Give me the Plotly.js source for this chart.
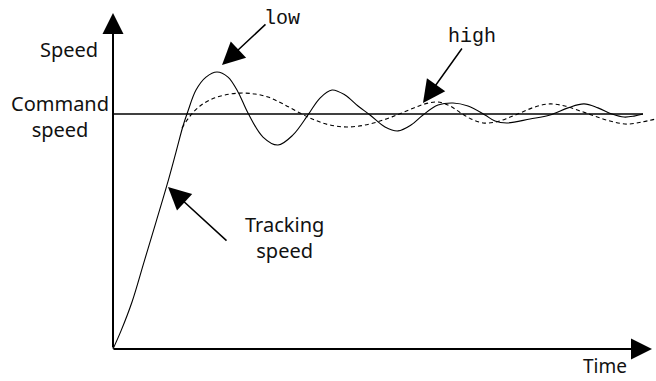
<!DOCTYPE html>
<html>
<head>
<meta charset="utf-8">
<script src="https://cdn.plot.ly/plotly-3.0.1.min.js"></script>
<style>html,body{margin:0;padding:0;background:#fff;}#chart{width:656px;height:381px;}</style>
</head>
<body>
<div id="chart"></div>
<script>
// Step-response curves (time in arbitrary units, speed relative to command speed = 1)
var timeLow = [0, 0.8, 1.9, 3.1, 4.3, 5.4, 6.3, 7.0, 7.5, 8.3, 9.3, 10.4, 11.5, 12.5, 13.5, 15.0, 16.5, 18.0, 19.5, 20.7, 21.9, 23.2, 24.5, 25.7, 27.2, 28.5, 29.8, 31.0, 32.5, 34.0, 35.5, 37.2, 38.2, 39.4, 41.7, 43.7, 45.5, 47.1, 48.5, 49.9, 51.1, 52.1, 53.0];
var speedLow = [0, 0.077, 0.200, 0.370, 0.540, 0.698, 0.838, 0.949, 1.013, 1.102, 1.157, 1.179, 1.157, 1.094, 1.004, 0.902, 0.868, 0.911, 0.996, 1.068, 1.102, 1.081, 1.034, 0.996, 0.945, 0.928, 0.953, 0.996, 1.038, 1.047, 1.034, 0.996, 0.970, 0.962, 0.979, 0.996, 1.026, 1.043, 1.026, 1.000, 0.987, 0.991, 1.000];
var timeHigh = [6.9, 7.7, 8.7, 9.9, 11.2, 12.7, 14.2, 15.5, 17.0, 18.7, 20.2, 21.7, 23.4, 25.2, 27.0, 28.4, 29.8, 31.2, 32.5, 33.7, 34.8, 35.8, 37.0, 38.3, 39.5, 40.7, 42.2, 43.7, 45.2, 46.7, 48.2, 49.7, 51.4, 52.9, 54.3];
var speedHigh = [0.940, 0.991, 1.034, 1.064, 1.081, 1.089, 1.085, 1.072, 1.043, 1.004, 0.974, 0.953, 0.945, 0.953, 0.974, 0.996, 1.021, 1.043, 1.051, 1.034, 1.004, 0.979, 0.962, 0.966, 0.983, 1.004, 1.030, 1.043, 1.034, 1.013, 0.991, 0.970, 0.957, 0.966, 0.979];
var timeCommand = [0, 53.0];
var speedCommand = [1, 1];

var W = 656, H = 381;
function px(x) { return x / W; }
function py(y) { return 1 - y / H; }

var sans = "'Noto Sans', 'Open Sans', sans-serif";
var mono = "'Liberation Mono', 'DejaVu Sans Mono', monospace";

var traces = [
  {x: timeCommand, y: speedCommand, mode: 'lines', line: {color: '#000', width: 1.5}, hoverinfo: 'skip'},
  {x: timeHigh, y: speedHigh, mode: 'lines', line: {color: '#000', width: 1.1, dash: '4px,3px', shape: 'spline', smoothing: 1}, hoverinfo: 'skip'},
  {x: timeLow, y: speedLow, mode: 'lines', line: {color: '#000', width: 1.1, shape: 'spline', smoothing: 1}, hoverinfo: 'skip'}
];

function arrow(tipX, tipY, tailX, tailY, w, s) {
  return {xref: 'paper', yref: 'paper', x: px(tipX), y: py(tipY), ax: tailX - tipX, ay: tailY - tipY,
    text: '', showarrow: true, arrowhead: 2, arrowwidth: w, arrowsize: s, arrowcolor: '#000', standoff: 0, startstandoff: 0};
}
function label(x, y, text, font, size, yanchor) {
  return {xref: 'paper', yref: 'paper', x: px(x), y: py(y), text: text, showarrow: false,
    xanchor: 'center', yanchor: yanchor || 'middle', align: 'center', font: {family: font, size: size, color: '#111'}};
}

var layout = {
  width: W, height: H,
  margin: {l: 0, r: 0, t: 0, b: 0},
  paper_bgcolor: '#fff', plot_bgcolor: '#fff',
  showlegend: false,
  xaxis: {range: [-11.3, 54.3], visible: false, fixedrange: true},
  yaxis: {range: [(349 - 381) / 235, 349 / 235], visible: false, fixedrange: true},
  annotations: [
    arrow(113, 13, 113, 349, 2, 2.1),
    arrow(652, 349, 112, 349, 2, 2.1),
    arrow(222, 65, 267, 23, 1.5, 3.0),
    arrow(423, 103, 463, 47, 1.5, 3.0),
    arrow(168, 187, 228, 242, 1.5, 3.0),
    label(69, 49, 'Speed', sans, 20),
    label(60, 116, 'Command<br>speed', sans, 20),
    label(284, 237, 'Tracking<br>speed', sans, 20),
    label(605, 381, 'Time', sans, 19, 'bottom'),
    label(282, 19, 'low', mono, 20),
    label(472, 36, 'high', mono, 20)
  ]
};

Plotly.newPlot('chart', traces, layout, {staticPlot: true, displayModeBar: false});
</script>
</body>
</html>
